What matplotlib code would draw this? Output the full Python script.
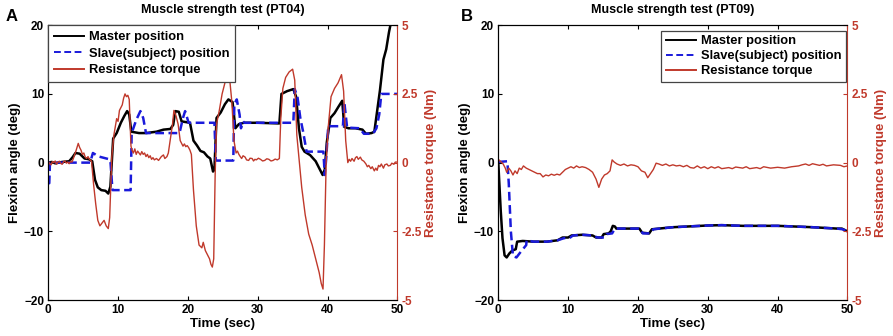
import matplotlib
matplotlib.use("Agg")
import matplotlib.pyplot as plt

plt.rcParams['font.family'] = ['Liberation Sans', 'DejaVu Sans']
plt.rcParams['font.weight'] = 'bold'

RED = '#c0392b'

# panel A (PT04): (time s, angle deg)
master_a = [(0, 0), (0.5, 0.1), (1, -0.1), (2, 0.1), (3, 0.2), (3.5, 0.8), (3.9, 1.4),
            (4.5, 1.3), (5.2, 0.6), (5.8, 0.5), (6.3, 0.2), (6.7, -2.5), (7.1, -3.6),
            (7.6, -4.0), (8.2, -4.1), (8.6, -4.5), (8.9, -3.5), (9.3, 3.5), (9.8, 4.3),
            (10.4, 5.8), (10.9, 6.8), (11.3, 7.5), (11.6, 7.0), (11.9, 4.5), (13, 4.3),
            (14, 4.3), (15.5, 4.5), (16.5, 4.8), (17.5, 4.9), (17.9, 5.5), (18.2, 7.5),
            (18.7, 7.4), (19.1, 6.0), (20.3, 5.8), (20.8, 3.2), (21.3, 2.5), (21.8, 1.7),
            (22.3, 1.5), (22.8, 0.9), (23.2, 0.6), (23.6, -1.3), (23.8, -1.0), (24.1, 6.5),
            (24.7, 7.3), (25.3, 8.5), (25.8, 9.2), (26.4, 8.8), (26.8, 5.0), (27.3, 5.6),
            (28, 5.8), (30, 5.8), (33.1, 5.7), (33.4, 10.0), (34.2, 10.4), (35.1, 10.7),
            (35.5, 9.6), (35.9, 5.0), (36.3, 2.3), (36.7, 1.6), (37.5, 1.1), (38.3, 0.2),
            (38.8, -0.8), (39.3, -1.8), (39.6, -1.0), (39.9, 3.0), (40.4, 6.5), (41, 7.2),
            (41.6, 8.2), (42.1, 9.0), (42.4, 5.2), (43, 5.0), (44, 5.0), (45, 4.8),
            (45.5, 4.2), (46.3, 4.3), (46.7, 4.5), (47.1, 7.5), (47.5, 10.5), (48, 15),
            (48.4, 16.5), (48.8, 19), (49.1, 20.5)]

slave_a = [(0, -3), (0.15, -3), (0.25, 0), (6.0, 0), (6.4, 1.4), (7.2, 0.9), (8.7, 0.5),
           (8.9, 0.3), (9.2, -4.0), (11.8, -4.0), (11.95, 4.3), (12.6, 6.2), (13.2, 7.5),
           (13.6, 6.5), (14.0, 4.3), (18.8, 4.3), (19.3, 6.5), (19.6, 7.5), (19.9, 6.5),
           (20.1, 5.8), (23.8, 5.8), (24.0, 0.3), (26.5, 0.3), (26.65, 8.5), (27.0, 9.2),
           (27.4, 7.0), (27.6, 5.0), (27.9, 6.0), (28.1, 5.8), (35.1, 5.8), (35.3, 10.7),
           (35.7, 9.5), (36.1, 6.5), (36.5, 4.5), (37.0, 1.6), (39.4, 1.6), (39.6, -1.8),
           (39.8, 0.5), (40.1, 5.3), (42.2, 5.3), (42.4, 8.8), (42.8, 5.1), (44.6, 5.0),
           (45.2, 4.2), (46.5, 4.2), (47.0, 5.0), (47.4, 7.0), (47.7, 10.0), (50, 10.0)]

# (time s, torque Nm)
torque_a = [(0, 0.05), (0.2, -0.04), (0.4, -0.08), (0.6, 0.04), (0.8, 0.0), (1.0, 0.06),
            (1.2, -0.06), (1.4, 0.02), (1.6, 0.05), (1.8, -0.03), (2.0, -0.06), (2.2, 0.03),
            (2.4, 0.06), (2.6, -0.02), (2.8, 0.02), (3.0, -0.04), (3.2, 0.05), (3.4, 0.02),
            (3.6, 0.15), (4.0, 0.45), (4.3, 0.7), (4.5, 0.55), (4.7, 0.45), (4.9, 0.3),
            (5.1, 0.35), (5.3, 0.2), (5.5, 0.15), (5.7, 0.22), (5.9, 0.12), (6.2, 0.05),
            (6.5, -0.8), (6.8, -1.5), (7.1, -2.1), (7.4, -2.3), (7.7, -2.2), (8.0, -2.1),
            (8.3, -2.3), (8.6, -2.4), (8.8, -2.0), (9.1, 0.2), (9.4, 1.0), (9.8, 1.6),
            (10.0, 1.5), (10.2, 1.9), (10.4, 2.0), (10.6, 2.1), (10.8, 2.35), (11.0, 2.5),
            (11.2, 2.4), (11.4, 2.45), (11.6, 2.3), (11.85, 0.6), (12.0, 0.45), (12.2, 0.35),
            (12.4, 0.5), (12.6, 0.3), (12.8, 0.42), (13.0, 0.35), (13.2, 0.28), (13.4, 0.4),
            (13.6, 0.3), (13.8, 0.35), (14.0, 0.22), (14.2, 0.3), (14.4, 0.18), (14.6, 0.25),
            (14.8, 0.12), (15.0, 0.18), (15.2, 0.1), (15.5, 0.15), (15.8, 0.08), (16.0, 0.15),
            (16.2, 0.22), (16.5, 0.28), (16.7, 0.15), (17.0, 0.22), (17.2, 0.35), (17.4, 0.7),
            (17.8, 1.4), (18.0, 1.9), (18.3, 1.7), (18.6, 1.4), (18.9, 0.8), (19.1, 0.7),
            (19.3, 0.6), (19.5, 0.68), (19.7, 0.58), (19.9, 0.62), (20.1, 0.55), (20.3, 0.45),
            (20.5, 0.3), (20.8, -1.0), (21.2, -2.3), (21.6, -3.0), (22.0, -3.1), (22.2, -2.9),
            (22.5, -3.2), (22.9, -3.4), (23.1, -3.5), (23.3, -3.7), (23.5, -3.8), (23.7, -3.5),
            (23.9, -0.5), (24.1, 1.4), (24.5, 1.9), (24.9, 2.5), (25.3, 2.9), (25.7, 3.1),
            (26.0, 3.0), (26.3, 2.2), (26.6, 0.8), (26.9, 0.35), (27.1, 0.42), (27.3, 0.3),
            (27.5, 0.22), (27.7, 0.15), (27.9, 0.25), (28.2, 0.2), (28.4, 0.1), (28.7, 0.08),
            (28.9, 0.16), (29.2, 0.15), (29.4, 0.06), (29.6, 0.12), (29.8, 0.1), (30.1, 0.16),
            (30.4, 0.12), (30.7, 0.06), (31.0, 0.08), (31.3, 0.14), (31.6, 0.12), (31.9, 0.06),
            (32.2, 0.08), (32.5, 0.13), (32.8, 0.1), (33.1, 0.15), (33.3, 1.6), (33.6, 2.7),
            (34.0, 3.1), (34.5, 3.3), (35.0, 3.4), (35.3, 3.0), (35.6, 1.0), (35.9, 0.2),
            (36.3, -0.9), (36.8, -1.9), (37.3, -2.6), (37.8, -3.0), (38.3, -3.5), (38.8, -4.0),
            (39.1, -4.4), (39.35, -4.6), (39.55, -3.0), (39.8, 0.0), (40.1, 1.3), (40.5, 2.4),
            (41.0, 2.7), (41.5, 2.9), (42.0, 3.2), (42.3, 2.6), (42.6, 0.8), (42.9, 0.0),
            (43.1, 0.12), (43.3, 0.05), (43.5, 0.15), (43.8, 0.05), (44.0, 0.18), (44.2, 0.22),
            (44.4, 0.12), (44.7, 0.2), (44.9, 0.1), (45.2, 0.05), (45.5, -0.05), (45.7, -0.15),
            (45.9, -0.1), (46.2, -0.22), (46.4, -0.15), (46.7, -0.3), (46.9, -0.2),
            (47.1, -0.28), (47.3, -0.1), (47.5, -0.15), (47.7, -0.05), (48.0, -0.2),
            (48.2, -0.08), (48.5, -0.05), (48.7, -0.12), (49.0, -0.1), (49.2, -0.02),
            (49.5, -0.06), (49.7, 0.02), (50.0, 0.02)]

# panel B (PT09)
master_b = [(0, 0), (0.15, -3), (0.35, -7), (0.6, -11), (0.9, -13.5), (1.2, -13.8),
            (1.6, -13.2), (2.0, -12.8), (2.5, -12.6), (2.7, -11.5), (3.5, -11.4),
            (5.0, -11.5), (7.0, -11.5), (8.5, -11.3), (9.2, -10.9), (10.0, -10.9),
            (10.5, -10.6), (12.0, -10.5), (13.5, -10.6), (14.0, -10.9), (14.8, -10.9),
            (15.1, -10.4), (15.8, -10.3), (16.1, -10.0), (16.4, -9.2), (16.7, -9.3),
            (16.9, -9.6), (20.2, -9.6), (20.6, -10.2), (21.6, -10.3), (22.0, -9.7),
            (25.0, -9.4), (30.0, -9.15), (32.0, -9.1), (35.0, -9.2), (40.0, -9.2),
            (45.0, -9.4), (48.5, -9.6), (49.2, -9.6), (50.0, -10.0)]

slave_b = [(0, 0.1), (1.3, 0.2), (1.5, -3), (1.8, -10), (2.1, -13.6), (2.6, -13.8),
           (3.2, -13.0), (4.0, -12.0), (4.05, -11.3), (5.0, -11.5), (7.0, -11.5),
           (8.5, -11.3), (9.4, -11.0), (10.3, -10.9), (10.7, -10.6), (12.0, -10.5),
           (13.5, -10.6), (14.2, -10.9), (15.2, -10.9), (15.5, -10.4), (16.3, -10.3),
           (16.7, -9.6), (20.3, -9.6), (20.7, -10.3), (21.8, -10.3), (22.2, -9.7),
           (25.0, -9.4), (30.0, -9.15), (32.0, -9.1), (35.0, -9.2), (40.0, -9.2),
           (45.0, -9.4), (48.5, -9.6), (49.3, -9.7), (50.0, -10.0)]

torque_b = [(0, 0.12), (0.3, 0.05), (0.7, -0.05), (1.0, -0.2), (1.2, -0.35), (1.5, -0.2),
            (1.8, -0.3), (2.1, -0.45), (2.4, -0.3), (2.7, -0.4), (3.0, -0.2), (3.3, -0.25),
            (3.6, -0.12), (4.0, -0.2), (4.4, -0.25), (4.8, -0.3), (5.2, -0.35), (5.6, -0.4),
            (6.0, -0.4), (6.4, -0.52), (6.8, -0.45), (7.2, -0.48), (7.6, -0.42), (8.0, -0.46),
            (8.4, -0.42), (8.8, -0.45), (9.2, -0.35), (9.6, -0.25), (10.0, -0.2), (10.4, -0.15),
            (10.8, -0.2), (11.2, -0.12), (11.6, -0.18), (12.0, -0.15), (12.5, -0.18),
            (13.0, -0.25), (13.5, -0.35), (14.0, -0.6), (14.4, -0.9), (14.8, -0.6),
            (15.2, -0.45), (15.6, -0.4), (16.0, -0.3), (16.3, 0.1), (16.6, 0.02), (17.0, -0.05),
            (17.5, -0.1), (18.0, -0.05), (18.5, -0.12), (19.0, -0.08), (19.5, -0.1),
            (20.0, -0.15), (20.5, -0.3), (21.0, -0.35), (21.4, -0.55), (21.8, -0.4),
            (22.2, -0.25), (22.6, -0.02), (23.0, -0.05), (23.5, -0.1), (24.0, -0.05),
            (24.5, -0.12), (25.0, -0.08), (25.5, -0.12), (26.0, -0.1), (26.5, -0.15),
            (27.0, -0.1), (27.5, -0.18), (28.0, -0.2), (28.5, -0.12), (29.0, -0.2),
            (29.5, -0.15), (30.0, -0.22), (30.5, -0.15), (31.0, -0.2), (31.5, -0.15),
            (32.0, -0.22), (33.0, -0.18), (33.5, -0.22), (34.0, -0.16), (35.0, -0.2),
            (35.5, -0.15), (36.0, -0.22), (37.0, -0.18), (37.5, -0.22), (38.0, -0.15),
            (39.0, -0.2), (40.0, -0.17), (41.0, -0.2), (42.0, -0.15), (43.0, -0.12),
            (43.5, -0.08), (44.0, -0.05), (44.5, -0.1), (45.0, -0.04), (46.0, -0.1),
            (46.5, -0.06), (47.0, -0.12), (48.0, -0.08), (49.0, -0.1), (49.5, -0.15),
            (50.0, -0.12)]

titles = ['Muscle strength test (PT04)', 'Muscle strength test (PT09)']
letters = ['A', 'B']
legend_labels = ['Master position', 'Slave(subject) position', 'Resistance torque']

fig = plt.figure(figsize=(8.93, 3.36), dpi=100)
lefts = [0.054, 0.558]
letter_x = [0.006, 0.516]
panels = [(master_a, slave_a, torque_a), (master_b, slave_b, torque_b)]

for i in range(2):
    ax = fig.add_axes([lefts[i], 0.107, 0.391, 0.818])
    m, s, tq = panels[i]
    l1, = ax.plot([p[0] for p in m], [p[1] for p in m], color='k', lw=1.8)
    l2, = ax.plot([p[0] for p in s], [p[1] for p in s], color='#1a1adb', lw=1.8,
                  ls=(0, (3.5, 1.8)))
    ax.set_xlim(0, 50)
    ax.set_ylim(-20, 20)
    ax.set_xticks([0, 10, 20, 30, 40, 50])
    ax.set_yticks([-20, -10, 0, 10, 20])
    ax.tick_params(direction='in', length=3, labelsize=8.5, top=True, right=False, pad=3)
    ax.spines['right'].set_visible(False)
    ax.set_xlabel('Time (sec)', fontsize=9.5, fontweight='bold', labelpad=1)
    ax.set_ylabel('Flexion angle (deg)', fontsize=9.5, fontweight='bold', labelpad=2)
    ax.set_title(titles[i], fontsize=9, fontweight='bold', pad=9)
    for lab in ax.get_xticklabels() + ax.get_yticklabels():
        lab.set_fontweight('bold')

    ax2 = ax.twinx()
    l3, = ax2.plot([p[0] for p in tq], [p[1] for p in tq], color=RED, lw=1.0)
    ax2.set_ylim(-5, 5)
    ax2.set_yticks([-5, -2.5, 0, 2.5, 5])
    ax2.set_yticklabels(['-5', '-2.5', '0', '2.5', '5'])
    ax2.spines['right'].set_color(RED)
    ax2.tick_params(axis='y', direction='in', length=3, colors=RED, labelsize=8.5, pad=3)
    ax2.set_ylabel('Resistance torque (Nm)', color=RED, fontsize=9.5, fontweight='bold',
                   labelpad=2)
    for lab in ax2.get_yticklabels():
        lab.set_fontweight('bold')

    if i == 0:
        leg = ax2.legend([l1, l2, l3], legend_labels, loc='upper left', borderaxespad=0,
                         fontsize=9.3, handlelength=2.3, fancybox=False, framealpha=1,
                         borderpad=0.45, labelspacing=0.36, handletextpad=0.4)
    else:
        leg = ax2.legend([l1, l2, l3], legend_labels, loc='upper right',
                         bbox_to_anchor=(0.995, 0.98), borderaxespad=0,
                         fontsize=9.3, handlelength=2.3, fancybox=False, framealpha=1,
                         borderpad=0.35, labelspacing=0.22, handletextpad=0.4)
    leg.get_frame().set_edgecolor('#444444')
    leg.get_frame().set_linewidth(0.9)
    for h in leg.legend_handles:
        h.set_linewidth(1.4)
    for t in leg.get_texts():
        t.set_fontweight('bold')

    fig.text(letter_x[i], 0.93, letters[i], fontsize=12, fontweight='bold', va='bottom')

fig.savefig('out.png', dpi=100)
